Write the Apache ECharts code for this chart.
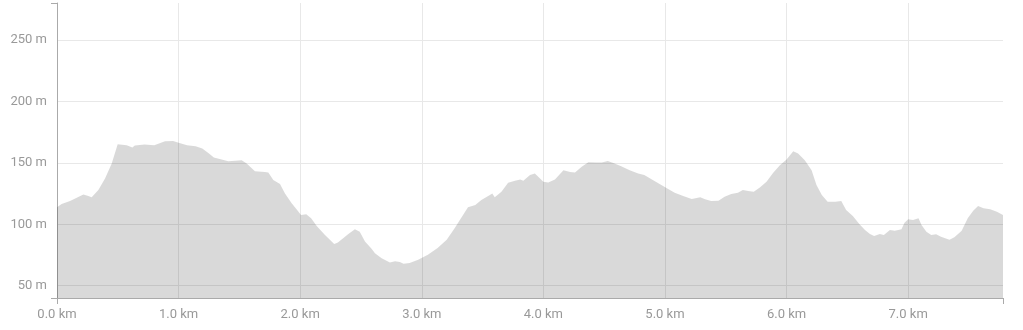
<!DOCTYPE html>
<html>
<head>
<meta charset="utf-8">
<script src="https://cdn.jsdelivr.net/npm/echarts@6/dist/echarts.min.js"></script>
<style>
html,body{margin:0;padding:0;background:#fff;}
#chart{width:1023px;height:330px;}
</style>
</head>
<body>
<div id="chart"></div>
<script>
// distance along the route (km)
var distanceKm = [
  0.0, 0.038, 0.107, 0.217, 0.258, 0.285, 0.34, 0.395, 0.45, 0.499,
  0.573, 0.62, 0.64, 0.72, 0.80, 0.888, 0.955, 1.0, 1.07, 1.14,
  1.195, 1.25, 1.29, 1.354, 1.409, 1.519, 1.56, 1.628, 1.71, 1.738,
  1.779, 1.834, 1.875, 1.93, 1.97, 2.007, 2.05, 2.09, 2.136, 2.204,
  2.28, 2.31, 2.396, 2.45, 2.49, 2.533, 2.587, 2.615, 2.67, 2.738,
  2.78, 2.82, 2.85, 2.90, 2.97, 3.05, 3.13, 3.205, 3.27, 3.33,
  3.38, 3.44, 3.49, 3.56, 3.58, 3.60, 3.655, 3.71, 3.766, 3.81,
  3.835, 3.89, 3.93, 3.958, 4.0, 4.04, 4.095, 4.165, 4.22, 4.26,
  4.315, 4.37, 4.44, 4.48, 4.53, 4.575, 4.64, 4.71, 4.78, 4.83,
  4.90, 4.97, 5.03, 5.08, 5.15, 5.22, 5.29, 5.33, 5.38, 5.44,
  5.49, 5.545, 5.60, 5.64, 5.685, 5.73, 5.78, 5.835, 5.89, 5.945,
  6.0, 6.055, 6.095, 6.15, 6.206, 6.246, 6.29, 6.338, 6.40, 6.45,
  6.49, 6.545, 6.60, 6.645, 6.686, 6.72, 6.767, 6.80, 6.85, 6.89,
  6.945, 6.97, 7.0, 7.04, 7.085, 7.11, 7.15, 7.19, 7.23, 7.27,
  7.34, 7.38, 7.44, 7.49, 7.535, 7.575, 7.62, 7.675, 7.73, 7.78
];
// elevation (m)
var elevationM = [
  113.8, 116.5, 119, 124.3, 123, 121.9, 127.8, 137.3, 149.4, 165,
  164.3, 162.4, 164, 164.8, 164.3, 167.5, 167.8, 166.4, 164.3, 163.5,
  161.6, 157.5, 154.3, 152.7, 151.3, 152.1, 149.4, 143.2, 142.6, 142.1,
  135.9, 132.7, 125.1, 117, 112.2, 107.5, 108.1, 104.9, 98.6, 91.3,
  84, 85.1, 92.1, 95.9, 94, 85.9, 80, 76.5, 72.4, 68.9,
  70, 69.2, 67.8, 68.4, 71.1, 75.1, 80.6, 87.3, 96.8, 106.2,
  113.8, 115.6, 119.7, 123.7, 125.1, 121.9, 126.4, 133.7, 135.3, 136.5,
  135.3, 140, 141.3, 138.6, 134.5, 134, 136.5, 144, 142.6, 142.1,
  146.7, 150.5, 150.2, 150.2, 151.5, 149.9, 147.2, 144, 141.3, 140,
  135.9, 131.9, 128.4, 125.6, 122.9, 120.5, 121.9, 120.3, 118.9, 119.1,
  122.4, 124.6, 125.6, 127.8, 127, 126.4, 130, 134.5, 141.8, 148.1,
  152.7, 159.4, 157.5, 152.1, 144, 131.9, 123.7, 118.3, 118.3, 118.9,
  111.6, 106.7, 100, 95.4, 92.1, 90.5, 92.1, 91.3, 95.4, 94.8,
  95.9, 101.3, 104, 103.5, 104.9, 99.4, 94, 91.3, 91.9, 89.9,
  87.3, 89.5, 94.8, 104.9, 111, 114.8, 113, 112.2, 110.2, 107.5
];
// tick labels
var yTickValues = [50, 100, 150, 200, 250];
var xTickValues = [0, 1, 2, 3, 4, 5, 6, 7];
var xMin = 0, xMax = 7.78;
var yMin = 40, yMax = 280;

var points = distanceKm.map(function (d, i) { return [d, elevationM[i]]; });

var labelStyle = { color: '#999', fontSize: 13, fontFamily: 'Roboto' };
var chart = echarts.init(document.getElementById('chart'), null, { renderer: 'canvas' });
chart.setOption({
  animation: false,
  grid: { left: 57, right: 20, top: 3, bottom: 32, containLabel: false },
  xAxis: [{
    type: 'value', min: xMin, max: xMax,
    axisLine: { show: false },
    axisTick: { show: false, customValues: xTickValues },
    axisLabel: Object.assign({ margin: 10, customValues: xTickValues,
      formatter: function (v) { return v.toFixed(1) + ' km'; } }, labelStyle),
    splitLine: { show: true, lineStyle: { color: '#e8e8e8', width: 1 } }
  }, {
    type: 'value', min: xMin, max: xMax, interval: xMax - xMin, position: 'bottom',
    axisLine: { show: true, lineStyle: { color: '#aaa', width: 1 } },
    axisTick: { show: true, length: 6, lineStyle: { color: '#aaa' } },
    axisLabel: { show: false },
    splitLine: { show: false }
  }],
  yAxis: [{
    type: 'value', min: yMin, max: yMax,
    axisLine: { show: false },
    axisTick: { show: false, customValues: yTickValues },
    axisLabel: Object.assign({ margin: 10, customValues: yTickValues,
      formatter: function (v) { return v + ' m'; } }, labelStyle),
    splitLine: { show: true, lineStyle: { color: '#e8e8e8', width: 1 } }
  }, {
    type: 'value', min: yMin, max: yMax, interval: yMax - yMin, position: 'left',
    axisLine: { show: true, lineStyle: { color: '#aaa', width: 1 } },
    axisTick: { show: true, length: 6, lineStyle: { color: '#aaa' } },
    axisLabel: { show: false },
    splitLine: { show: false }
  }],
  series: [{
    type: 'line',
    xAxisIndex: 0, yAxisIndex: 0,
    data: points,
    showSymbol: false,
    symbol: 'none',
    lineStyle: { width: 0 },
    areaStyle: { color: '#000', opacity: 0.15 },
    silent: true
  }]
});
</script>
</body>
</html>
